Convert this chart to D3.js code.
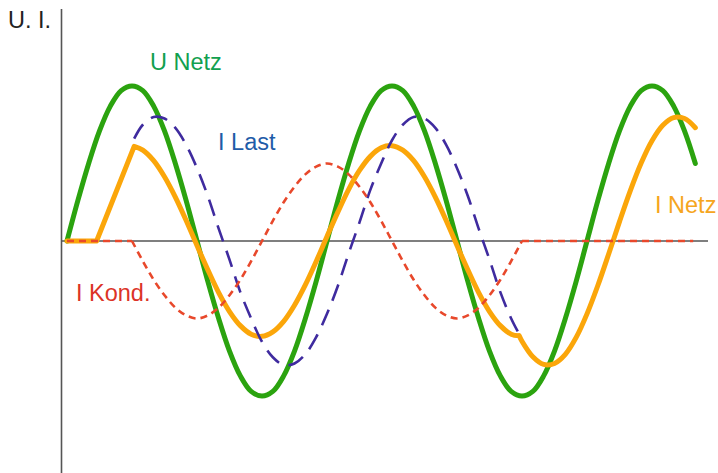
<!DOCTYPE html>
<html>
<head>
<meta charset="utf-8">
<script src="https://cdn.jsdelivr.net/npm/d3@7"></script>
<style>
html,body{margin:0;padding:0;background:#fff;}
svg{display:block;}
text{font-family:"Liberation Sans",Arial,Helvetica,sans-serif;}
</style>
</head>
<body>
<svg id="chart" width="718" height="473"></svg>
<script>
// phase angle in degrees, value in % of voltage amplitude
const uNetz = [[0,0],[15,26],[30,50],[45,71],[60,87],[75,97],[90,100],[105,97],[120,87],[135,71],[150,50],[165,26],[180,0],[195,-26],[210,-50],[225,-71],[240,-87],[255,-97],[270,-100],[285,-97],[300,-87],[315,-71],[330,-50],[345,-26],[360,0],[375,26],[390,50],[405,71],[420,87],[435,97],[450,100],[465,97],[480,87],[495,71],[510,50],[525,26],[540,0],[555,-26],[570,-50],[585,-71],[600,-87],[615,-97],[630,-100],[645,-97],[660,-87],[675,-71],[690,-50],[705,-26],[720,0],[735,26],[750,50],[765,71],[780,87],[795,97],[810,100],[825,97],[840,87],[855,71],[870,50]];

const iLast = [[93,66],[105,75],[120,80],[135,79],[150,73],[165,62],[180,47],[195,29],[210,8],[225,-12],[240,-33],[255,-50],[270,-65],[285,-75],[300,-80],[315,-79],[330,-73],[345,-62],[360,-47],[375,-29],[390,-8],[405,12],[420,33],[435,50],[450,65],[465,75],[480,80],[495,79],[510,73],[525,62],[540,47],[555,29],[570,8],[585,-12],[600,-33],[615,-50],[626,-60]];

const iKondFlat1 = [[0,0],[90,0]];
const iKond = [[90,0],[105,-13],[120,-25],[135,-35],[150,-43],[165,-48],[180,-50],[195,-48],[210,-43],[225,-35],[240,-25],[255,-13],[270,0],[285,13],[300,25],[315,35],[330,43],[345,48],[360,50],[375,48],[390,43],[405,35],[420,25],[435,13],[450,0],[465,-13],[480,-25],[495,-35],[510,-43],[525,-48],[540,-50],[555,-48],[570,-43],[585,-35],[600,-25],[615,-13],[630,0]];
const iKondFlat2 = [[630,0],[867,0]];

const iNetzStart = [[0,0],[41,0],[93,61]];
const iNetzMid = [[93,61],[105,58.6],[120,51.8],[135,41.4],[150,28.3],[165,13.2],[180,-2.9],[195,-18.6],[210,-33.3],[225,-45.5],[240,-54.6],[255,-60.1],[270,-61.5],[285,-58.6],[300,-51.8],[315,-41.4],[330,-28.3],[345,-13.2],[360,2.9],[375,18.6],[390,33.3],[405,45.5],[420,54.6],[435,60.1],[450,61.5],[465,58.6],[480,51.8],[495,41.4],[510,28.3],[525,13.2],[540,-2.9],[555,-18.6],[570,-33.3],[585,-45.5],[600,-54.6],[615,-60.1],[626,-61.2]];
const iNetzEnd = [[626,-61],[630,-64.7],[645,-74.7],[660,-79.6],[675,-79],[690,-73.1],[705,-62.2],[720,-47],[735,-28.7],[750,-8.4],[765,12.5],[780,32.5],[795,50.3],[810,64.7],[825,74.7],[840,79.6],[855,79],[870,73.1]];

const labels = ["U. I.", "U Netz", "I Last", "I Netz", "I Kond."];

const svg = d3.select("#chart");
const x = d3.scaleLinear().domain([0, 870]).range([67, 67 + 870 * 260 / 360]);
const y = d3.scaleLinear().domain([-100, 100]).range([396, 86]);

// axes
svg.append("line").attr("x1", 61.5).attr("x2", 61.5).attr("y1", 9).attr("y2", 473)
  .attr("stroke", "#555").attr("stroke-width", 1.6);
svg.append("line").attr("x1", 62).attr("x2", 708).attr("y1", y(0)).attr("y2", y(0))
  .attr("stroke", "#555").attr("stroke-width", 1.6);

const curveLine = d3.line().x(d => x(d[0])).y(d => y(d[1])).curve(d3.curveCatmullRom.alpha(0.5));
const straight = d3.line().x(d => x(d[0])).y(d => y(d[1]));

function draw(pathD, color, width, dash, cap) {
  const p = svg.append("path").attr("d", pathD).attr("fill", "none")
    .attr("stroke", color).attr("stroke-width", width)
    .attr("stroke-linecap", cap || "round").attr("stroke-linejoin", "round");
  if (dash) p.attr("stroke-dasharray", dash);
  return p;
}

// U Netz
draw(curveLine(uNetz), "#2ba30f", 5);
// I Netz
draw(straight(iNetzStart) + curveLine(iNetzMid) + curveLine(iNetzEnd), "#fba60a", 5);
// I Last
draw(curveLine(iLast), "#3f2b9f", 2.6, "17,10", "butt");
// I Kond
draw(straight(iKondFlat1) + curveLine(iKond) + straight(iKondFlat2), "#e8482b", 2.6, "7,5", "butt");

// labels
const lab = [
  {t: labels[0], x: 8, y: 28, c: "#222"},
  {t: labels[1], x: 150, y: 70, c: "#12a04f"},
  {t: labels[2], x: 218, y: 150, c: "#1f5ca8"},
  {t: labels[3], x: 655, y: 213, c: "#f6a520"},
  {t: labels[4], x: 76, y: 301, c: "#dc3327"}
];
svg.selectAll("text.lab").data(lab).enter().append("text")
  .attr("class", "lab")
  .attr("x", d => d.x).attr("y", d => d.y)
  .attr("fill", d => d.c)
  .attr("font-size", "23.5px")
  .text(d => d.t);
</script>
</body>
</html>
